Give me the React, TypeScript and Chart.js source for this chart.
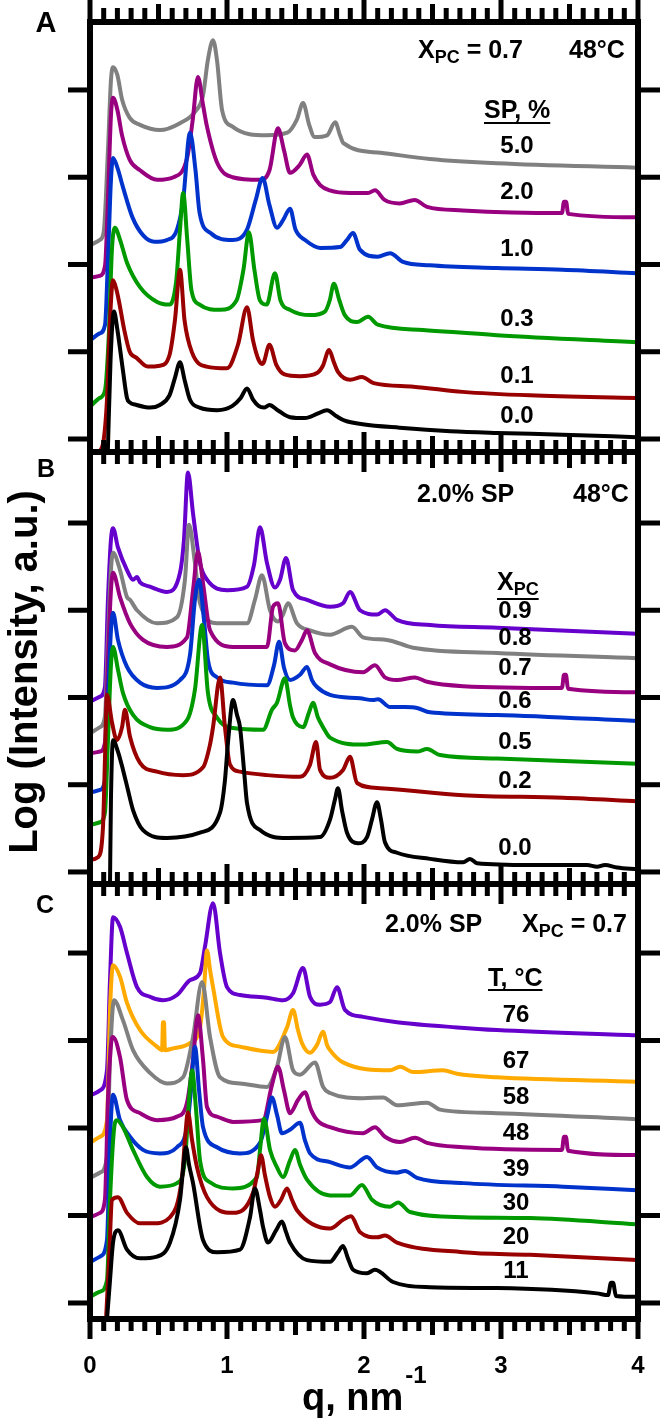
import React, { useEffect, useRef } from "react";
import { Chart, registerables } from "chart.js";

Chart.register(...registerables);

const FONT = "'Liberation Sans', Arial, Helvetica, sans-serif";

// ---------- axes ----------
const X_TICKS = [0, 1, 2, 3, 4];
const Y_TICKS = [0, 1, 2, 3, 4];

// ---------- Panel A : X_PC = 0.7, 48 °C, varying SP % ----------
const A_SP_LABELS = ["5.0", "2.0", "1.0", "0.3", "0.1", "0.0"];
const A_SP00: [number, number][] = [[0.13,-0.15],[0.15,0.91],[0.175,1.46],[0.20,1.25],[0.24,0.79],[0.27,0.47],[0.29,0.42],[0.34,0.39],[0.44,0.36],[0.51,0.39],[0.58,0.50],[0.62,0.70],[0.657,0.88],[0.69,0.68],[0.73,0.45],[0.80,0.36],[0.93,0.33],[1.04,0.38],[1.10,0.47],[1.146,0.58],[1.19,0.45],[1.23,0.38],[1.27,0.36],[1.31,0.39],[1.37,0.33],[1.46,0.25],[1.57,0.24],[1.66,0.29],[1.73,0.33],[1.80,0.26],[1.86,0.21],[1.99,0.17],[2.26,0.13],[2.63,0.09],[2.97,0.07],[3.45,0.05],[3.99,0.02]];
const A_SP01: [number, number][] = [[0.07,-0.15],[0.10,-0.01],[0.124,0.45],[0.146,1.36],[0.168,1.82],[0.19,1.73],[0.21,1.59],[0.25,1.25],[0.29,1.00],[0.34,0.93],[0.42,0.83],[0.51,0.84],[0.58,0.96],[0.62,1.36],[0.657,1.94],[0.69,1.36],[0.745,0.99],[0.85,0.83],[1.00,0.81],[1.08,1.08],[1.146,1.51],[1.19,1.13],[1.23,0.91],[1.26,0.86],[1.31,1.08],[1.36,0.85],[1.42,0.74],[1.53,0.72],[1.66,0.76],[1.70,0.84],[1.745,1.02],[1.78,0.88],[1.81,0.77],[1.90,0.68],[1.985,0.71],[2.07,0.64],[2.36,0.60],[2.72,0.54],[3.21,0.50],[3.99,0.47]];
const A_SP03: [number, number][] = [[0,0.37],[0.07,0.47],[0.11,0.56],[0.139,1.25],[0.16,2.17],[0.182,2.42],[0.22,2.28],[0.27,2.02],[0.365,1.74],[0.49,1.57],[0.58,1.54],[0.63,1.82],[0.657,2.40],[0.68,2.82],[0.71,2.28],[0.74,1.71],[0.80,1.54],[0.95,1.48],[1.07,1.59],[1.12,1.94],[1.16,2.37],[1.20,1.94],[1.24,1.59],[1.29,1.54],[1.35,1.90],[1.39,1.59],[1.46,1.48],[1.61,1.42],[1.715,1.46],[1.75,1.59],[1.78,1.78],[1.82,1.59],[1.86,1.42],[1.95,1.34],[2.03,1.40],[2.10,1.31],[2.43,1.25],[2.97,1.19],[3.99,1.11]];
const A_SP10: [number, number][] = [[0,1.13],[0.07,1.21],[0.11,1.31],[0.131,2.05],[0.153,2.97],[0.168,3.22],[0.20,3.11],[0.24,2.89],[0.31,2.54],[0.39,2.33],[0.47,2.26],[0.56,2.28],[0.635,2.40],[0.68,2.74],[0.73,3.51],[0.77,3.08],[0.80,2.59],[0.88,2.36],[1.04,2.28],[1.146,2.40],[1.21,2.74],[1.26,2.99],[1.31,2.68],[1.365,2.42],[1.41,2.51],[1.46,2.64],[1.50,2.40],[1.57,2.28],[1.68,2.19],[1.825,2.20],[1.875,2.28],[1.92,2.36],[1.97,2.17],[2.10,2.09],[2.19,2.13],[2.285,2.03],[2.48,1.99],[2.97,1.96],[3.45,1.94],[3.99,1.90]];
const A_SP20: [number, number][] = [[0,1.85],[0.07,1.87],[0.11,1.99],[0.131,2.74],[0.153,3.71],[0.168,3.91],[0.20,3.77],[0.234,3.48],[0.29,3.20],[0.365,3.08],[0.49,2.97],[0.61,3.00],[0.71,3.23],[0.75,3.66],[0.788,4.15],[0.825,3.83],[0.854,3.58],[0.93,3.16],[1.04,3.00],[1.24,2.97],[1.31,3.08],[1.372,3.56],[1.416,3.31],[1.46,3.05],[1.53,3.14],[1.584,3.26],[1.63,3.03],[1.68,2.91],[1.75,2.85],[1.90,2.82],[2.03,2.82],[2.08,2.85],[2.15,2.74],[2.26,2.70],[2.37,2.74],[2.46,2.66],[2.72,2.62],[3.445,2.59],[3.46,2.72],[3.475,2.72],[3.49,2.58],[3.99,2.54]];
const A_SP50: [number, number][] = [[0,2.22],[0.07,2.28],[0.10,2.37],[0.131,3.31],[0.153,4.11],[0.168,4.26],[0.20,4.17],[0.234,3.89],[0.29,3.68],[0.365,3.60],[0.51,3.54],[0.657,3.62],[0.766,3.75],[0.825,3.94],[0.86,4.34],[0.898,4.57],[0.927,4.34],[0.964,3.77],[1.04,3.58],[1.29,3.48],[1.44,3.51],[1.51,3.66],[1.555,3.85],[1.60,3.60],[1.64,3.46],[1.73,3.48],[1.79,3.63],[1.825,3.48],[1.85,3.39],[2.12,3.28],[2.48,3.21],[2.97,3.16],[3.99,3.11]];

// ---------- Panel B : 2.0 % SP, 48 °C, varying X_PC ----------
const B_XPC_LABELS = ["0.9", "0.8", "0.7", "0.6", "0.5", "0.2", "0.0"];
const B_X00: [number, number][] = [[0.146,-0.13],[0.153,0.83],[0.168,1.51],[0.204,1.38],[0.241,1.17],[0.277,0.94],[0.314,0.71],[0.387,0.48],[0.562,0.39],[0.803,0.45],[0.949,0.68],[0.985,1.05],[1.007,1.48],[1.044,1.97],[1.073,1.80],[1.095,1.66],[1.124,1.17],[1.146,0.79],[1.241,0.48],[1.438,0.39],[1.679,0.40],[1.752,0.60],[1.788,0.83],[1.81,0.96],[1.839,0.71],[1.876,0.45],[1.956,0.33],[2.022,0.40],[2.058,0.60],[2.095,0.80],[2.124,0.60],[2.153,0.34],[2.241,0.22],[2.482,0.15],[2.723,0.11],[2.774,0.15],[2.825,0.10],[3.212,0.08],[3.628,0.08],[3.701,0.06],[3.759,0.08],[3.847,0.05],[3.993,0.03]];
const B_X02: [number, number][] = [[0,0.14],[0.058,0.17],[0.095,0.52],[0.109,1.28],[0.124,2.03],[0.161,1.71],[0.197,1.51],[0.234,1.66],[0.255,1.86],[0.292,1.55],[0.365,1.25],[0.489,1.15],[0.679,1.11],[0.825,1.20],[0.876,1.46],[0.898,1.66],[0.949,2.23],[0.985,1.66],[1.022,1.23],[1.095,1.15],[1.292,1.11],[1.533,1.09],[1.606,1.23],[1.65,1.49],[1.679,1.17],[1.752,1.08],[1.847,1.17],[1.898,1.32],[1.949,1.02],[2.117,0.96],[2.723,0.88],[3.453,0.85],[3.993,0.81]];
const B_X05: [number, number][] = [[0,0.54],[0.073,0.57],[0.109,0.68],[0.131,1.51],[0.153,2.37],[0.168,2.58],[0.204,2.32],[0.241,2.05],[0.314,1.80],[0.438,1.66],[0.562,1.63],[0.708,1.74],[0.766,2.09],[0.818,2.83],[0.861,2.05],[0.927,1.77],[1.044,1.65],[1.263,1.63],[1.328,1.86],[1.365,1.94],[1.423,2.22],[1.46,1.91],[1.482,1.77],[1.555,1.66],[1.599,1.83],[1.628,1.94],[1.664,1.77],[1.701,1.66],[1.752,1.54],[1.993,1.46],[2.168,1.49],[2.241,1.41],[2.387,1.38],[2.46,1.41],[2.555,1.34],[2.971,1.30],[3.993,1.24]];
const B_X06: [number, number][] = [[0,0.91],[0.073,0.94],[0.109,1.05],[0.131,1.97],[0.153,2.77],[0.168,2.97],[0.204,2.66],[0.27,2.35],[0.365,2.17],[0.489,2.11],[0.657,2.20],[0.73,2.49],[0.766,3.12],[0.796,3.35],[0.832,2.89],[0.861,2.43],[0.927,2.23],[1.044,2.17],[1.292,2.14],[1.343,2.37],[1.38,2.64],[1.416,2.34],[1.46,2.20],[1.533,2.26],[1.584,2.35],[1.62,2.20],[1.657,2.12],[1.752,2.03],[1.971,1.99],[2.066,1.97],[2.102,1.98],[2.19,1.89],[2.299,1.89],[2.387,1.88],[2.482,1.83],[2.971,1.80],[3.993,1.73]];
const B_X07: [number, number][] = [[0,1.36],[0.073,1.38],[0.109,1.48],[0.131,2.43],[0.153,3.23],[0.168,3.43],[0.219,3.15],[0.292,2.85],[0.387,2.66],[0.562,2.58],[0.708,2.69],[0.752,3.23],[0.788,3.67],[0.825,3.31],[0.876,2.77],[1.044,2.58],[1.292,2.58],[1.336,3.04],[1.372,3.08],[1.423,2.62],[1.496,2.54],[1.547,2.66],[1.584,2.77],[1.642,2.51],[1.752,2.38],[1.993,2.29],[2.08,2.37],[2.153,2.23],[2.241,2.20],[2.372,2.23],[2.46,2.18],[2.723,2.13],[3.445,2.11],[3.46,2.26],[3.474,2.26],[3.489,2.10],[3.993,2.06]];
const B_X08: [number, number][] = [[0,1.59],[0.073,1.66],[0.109,1.78],[0.131,2.66],[0.153,3.46],[0.168,3.66],[0.219,3.46],[0.27,3.15],[0.292,3.12],[0.343,3.00],[0.489,2.85],[0.635,2.92],[0.693,3.35],[0.723,3.98],[0.766,3.54],[0.803,3.08],[0.927,2.85],[1.146,2.85],[1.204,3.12],[1.255,3.40],[1.314,3.00],[1.372,2.87],[1.409,2.95],[1.445,3.08],[1.511,2.85],[1.606,2.77],[1.752,2.72],[1.912,2.81],[1.993,2.69],[2.168,2.66],[2.358,2.57],[2.971,2.51],[3.993,2.45]];
const B_X09: [number, number][] = [[0,1.95],[0.073,2.01],[0.109,2.12],[0.131,3.12],[0.153,3.81],[0.168,3.94],[0.204,3.72],[0.27,3.46],[0.314,3.35],[0.343,3.38],[0.365,3.32],[0.438,3.27],[0.562,3.21],[0.657,3.43],[0.686,3.81],[0.715,4.58],[0.752,4.11],[0.803,3.54],[0.854,3.35],[1.0,3.23],[1.146,3.27],[1.197,3.52],[1.241,3.95],[1.292,3.54],[1.35,3.26],[1.387,3.35],[1.431,3.60],[1.482,3.23],[1.584,3.12],[1.752,3.04],[1.847,3.08],[1.898,3.21],[1.971,3.00],[2.095,2.95],[2.153,3.00],[2.241,2.89],[2.482,2.83],[2.971,2.80],[3.993,2.73]];

// ---------- Panel C : 2.0 % SP, X_PC = 0.7, varying T ----------
const C_T_LABELS = ["76", "67", "58", "48", "39", "30", "20", "11"];
const C_T11: [number, number][] = [[0.124,-0.19],[0.146,0.26],[0.168,0.69],[0.204,0.83],[0.27,0.61],[0.365,0.51],[0.489,0.53],[0.584,0.69],[0.657,1.18],[0.679,1.52],[0.701,1.78],[0.723,1.58],[0.752,1.37],[0.825,0.72],[0.927,0.58],[1.095,0.61],[1.168,0.98],[1.204,1.31],[1.241,1.06],[1.263,0.87],[1.299,0.69],[1.358,0.83],[1.401,0.93],[1.431,0.81],[1.46,0.69],[1.584,0.49],[1.752,0.47],[1.81,0.58],[1.847,0.65],[1.883,0.51],[1.92,0.38],[2.022,0.34],[2.08,0.38],[2.212,0.24],[2.482,0.18],[2.971,0.17],[3.701,0.11],[3.781,0.09],[3.803,0.23],[3.818,0.23],[3.839,0.08],[3.993,0.07]];
const C_T20: [number, number][] = [[0.117,-0.19],[0.139,0.49],[0.161,1.18],[0.204,1.21],[0.27,1.03],[0.365,0.91],[0.46,0.91],[0.584,0.98],[0.672,1.44],[0.693,1.86],[0.715,2.18],[0.745,1.86],[0.781,1.55],[0.854,1.21],[1.044,1.03],[1.19,1.26],[1.226,1.52],[1.248,1.69],[1.277,1.46],[1.314,1.21],[1.35,1.10],[1.394,1.18],[1.438,1.31],[1.474,1.18],[1.511,1.06],[1.752,0.85],[1.847,0.95],[1.905,0.99],[1.971,0.81],[2.095,0.75],[2.153,0.77],[2.241,0.69],[2.723,0.58],[3.212,0.55],[3.993,0.49]];
const C_T30: [number, number][] = [[0,0.07],[0.073,0.13],[0.124,0.26],[0.146,1.18],[0.175,1.98],[0.197,2.09],[0.241,2.01],[0.314,1.75],[0.416,1.44],[0.511,1.33],[0.635,1.37],[0.693,1.63],[0.723,2.32],[0.745,2.66],[0.774,2.21],[0.803,1.63],[0.876,1.38],[1.044,1.31],[1.219,1.44],[1.241,1.75],[1.27,2.11],[1.314,1.75],[1.365,1.55],[1.409,1.44],[1.46,1.63],[1.496,1.75],[1.533,1.58],[1.584,1.41],[1.752,1.23],[1.898,1.23],[1.985,1.35],[2.058,1.18],[2.19,1.10],[2.248,1.15],[2.336,1.04],[2.723,0.98],[3.212,0.97],[3.993,0.90]];
const C_T39: [number, number][] = [[0,0.47],[0.073,0.53],[0.124,0.72],[0.146,1.86],[0.168,2.38],[0.219,2.09],[0.292,1.90],[0.387,1.75],[0.511,1.71],[0.635,1.78],[0.708,2.01],[0.737,2.43],[0.766,2.93],[0.796,2.43],[0.825,2.01],[0.927,1.78],[1.095,1.71],[1.241,1.83],[1.292,2.13],[1.328,2.35],[1.365,2.15],[1.401,1.94],[1.46,1.98],[1.533,2.06],[1.569,1.86],[1.606,1.71],[1.752,1.61],[1.898,1.55],[2.022,1.67],[2.095,1.55],[2.241,1.49],[2.299,1.51],[2.387,1.43],[2.723,1.37],[3.453,1.33],[3.993,1.29]];
const C_T48: [number, number][] = [[0,0.98],[0.073,1.03],[0.109,1.18],[0.131,2.32],[0.153,2.95],[0.168,3.04],[0.219,2.81],[0.27,2.32],[0.365,2.17],[0.489,2.09],[0.635,2.13],[0.708,2.29],[0.752,2.78],[0.788,3.29],[0.825,2.78],[0.854,2.24],[0.927,2.13],[1.044,2.07],[1.263,2.09],[1.328,2.49],[1.372,2.70],[1.416,2.43],[1.46,2.17],[1.518,2.32],[1.569,2.41],[1.613,2.21],[1.657,2.09],[1.752,2.01],[1.993,1.94],[2.08,2.01],[2.153,1.90],[2.263,1.84],[2.372,1.89],[2.46,1.83],[2.723,1.78],[3.445,1.75],[3.46,1.90],[3.474,1.90],[3.489,1.74],[3.993,1.69]];
const C_T58: [number, number][] = [[0,1.43],[0.073,1.49],[0.124,1.67],[0.146,2.78],[0.175,3.46],[0.241,3.23],[0.314,2.89],[0.438,2.63],[0.562,2.51],[0.679,2.58],[0.752,3.04],[0.818,3.67],[0.876,3.04],[0.949,2.58],[1.095,2.51],[1.292,2.47],[1.365,2.70],[1.423,3.04],[1.482,2.66],[1.533,2.61],[1.642,2.75],[1.701,2.47],[1.752,2.40],[1.993,2.34],[2.139,2.35],[2.241,2.26],[2.46,2.29],[2.555,2.21],[2.971,2.17],[3.993,2.10]];
const C_T67: [number, number][] = [[0,1.83],[0.073,1.90],[0.124,2.09],[0.146,3.35],[0.168,3.86],[0.219,3.73],[0.27,3.43],[0.365,3.12],[0.489,2.93],[0.526,2.89],[0.533,3.21],[0.54,3.21],[0.547,2.89],[0.606,2.91],[0.73,2.97],[0.803,3.15],[0.832,3.58],[0.854,4.03],[0.876,3.81],[0.898,3.61],[0.971,3.04],[1.095,2.93],[1.336,2.87],[1.438,3.15],[1.482,3.35],[1.518,3.12],[1.547,2.97],[1.606,2.86],[1.657,2.95],[1.701,3.10],[1.73,2.95],[1.752,2.89],[1.847,2.75],[2.19,2.66],[2.263,2.70],[2.358,2.64],[2.577,2.66],[2.679,2.62],[2.971,2.58],[3.993,2.53]];
const C_T76: [number, number][] = [[0.015,2.38],[0.073,2.43],[0.124,2.66],[0.146,3.69],[0.168,4.41],[0.219,4.30],[0.27,4.00],[0.343,3.61],[0.438,3.50],[0.533,3.46],[0.635,3.52],[0.73,3.69],[0.803,3.77],[0.839,4.07],[0.898,4.57],[0.949,4.00],[1.0,3.61],[1.095,3.52],[1.292,3.49],[1.409,3.46],[1.482,3.54],[1.555,3.83],[1.606,3.50],[1.679,3.41],[1.752,3.44],[1.803,3.61],[1.861,3.35],[1.993,3.27],[2.241,3.21],[2.679,3.15],[2.971,3.12],[3.993,3.06]];

const COL = {
  black: "#000000",
  red: "#990000",
  green: "#009a00",
  blue: "#0033cc",
  magenta: "#990080",
  gray: "#808080",
  violet: "#6600cc",
  orange: "#ffaa00",
};

type Series = { name: string; pts: [number, number][]; color: string; axis: string };

const SERIES: Series[] = [
  { name: "A 0.0", pts: A_SP00, color: COL.black, axis: "yA" },
  { name: "A 0.1", pts: A_SP01, color: COL.red, axis: "yA" },
  { name: "A 0.3", pts: A_SP03, color: COL.green, axis: "yA" },
  { name: "A 1.0", pts: A_SP10, color: COL.blue, axis: "yA" },
  { name: "A 2.0", pts: A_SP20, color: COL.magenta, axis: "yA" },
  { name: "A 5.0", pts: A_SP50, color: COL.gray, axis: "yA" },
  { name: "B 0.0", pts: B_X00, color: COL.black, axis: "yB" },
  { name: "B 0.2", pts: B_X02, color: COL.red, axis: "yB" },
  { name: "B 0.5", pts: B_X05, color: COL.green, axis: "yB" },
  { name: "B 0.6", pts: B_X06, color: COL.blue, axis: "yB" },
  { name: "B 0.7", pts: B_X07, color: COL.magenta, axis: "yB" },
  { name: "B 0.8", pts: B_X08, color: COL.gray, axis: "yB" },
  { name: "B 0.9", pts: B_X09, color: COL.violet, axis: "yB" },
  { name: "C 11", pts: C_T11, color: COL.black, axis: "yC" },
  { name: "C 20", pts: C_T20, color: COL.red, axis: "yC" },
  { name: "C 30", pts: C_T30, color: COL.green, axis: "yC" },
  { name: "C 39", pts: C_T39, color: COL.blue, axis: "yC" },
  { name: "C 48", pts: C_T48, color: COL.magenta, axis: "yC" },
  { name: "C 58", pts: C_T58, color: COL.gray, axis: "yC" },
  { name: "C 67", pts: C_T67, color: COL.orange, axis: "yC" },
  { name: "C 76", pts: C_T76, color: COL.violet, axis: "yC" },
];

function drawText(ctx: CanvasRenderingContext2D, s: string, x: number, y: number, size: number, align: CanvasTextAlign = "left") {
  ctx.font = `bold ${size}px ${FONT}`;
  ctx.textAlign = align;
  ctx.textBaseline = "alphabetic";
  ctx.fillText(s, x, y);
  return ctx.measureText(s).width;
}

const decorPlugin = {
  id: "decor",
  afterDraw(chart: any) {
    const ctx: CanvasRenderingContext2D = chart.ctx;
    const xs = chart.scales.x;
    const ys = [chart.scales.yA, chart.scales.yB, chart.scales.yC];
    const L = xs.left;
    const R = xs.right;
    ctx.save();
    ctx.fillStyle = "#000";
    const edges = new Set<number>();
    ys.forEach((s) => { edges.add(Math.round(s.top)); edges.add(Math.round(s.bottom)); });
    const hs = Array.from(edges).sort((a, b) => a - b);
    const topY = hs[0];
    const botY = hs[hs.length - 1];
    // frame
    ctx.fillRect(L - 3, topY - 3, 6, botY - topY + 6);
    ctx.fillRect(R - 3, topY - 3, 6, botY - topY + 6);
    hs.forEach((y) => ctx.fillRect(L - 3, y - 3, R - L + 6, 6));
    // y ticks (left & right, outward)
    ys.forEach((s) => {
      Y_TICKS.forEach((v) => {
        const y = s.getPixelForValue(v);
        ctx.fillRect(L - 22, y - 2.5, 22, 5);
        ctx.fillRect(R, y - 2.5, 22, 5);
      });
    });
    // x ticks at every panel boundary
    for (let i = 0; i <= 40; i++) {
      const x = xs.getPixelForValue(i / 10);
      const len = i % 10 === 0 ? 20 : i % 5 === 0 ? 16 : 12;
      hs.forEach((y, k) => {
        const isTop = k === 0;
        const isBot = k === hs.length - 1;
        const y1 = isBot ? y : y - len - (isTop ? 2 : 0);
        const y2 = isTop ? y : y + len;
        ctx.fillRect(x - 2.5, y1, 5, y2 - y1);
      });
    }

    // ----- Panel A texts -----
    drawText(ctx, "A", 46, 32, 29, "center");
    let w = drawText(ctx, "X", 418, 58, 25);
    let w2 = drawText(ctx, "PC", 418 + w, 63, 18);
    drawText(ctx, " = 0.7", 418 + w + w2, 58, 25);
    drawText(ctx, "48°C", 569, 58, 25);
    w = drawText(ctx, "SP, %", 484, 118, 25);
    ctx.fillRect(484, 122, w, 2);
    const aY = [153, 199, 256, 326, 383, 423];
    A_SP_LABELS.forEach((s, i) => drawText(ctx, s, 517, aY[i], 24, "center"));

    // ----- Panel B texts -----
    drawText(ctx, "B", 46, 477, 25, "center");
    drawText(ctx, "2.0% SP", 417, 502, 25);
    drawText(ctx, "48°C", 573, 502, 25);
    w = drawText(ctx, "X", 497, 590, 25);
    w2 = drawText(ctx, "PC", 497 + w, 595, 18);
    ctx.fillRect(497, 598, w + w2, 2);
    const bY = [618, 645, 675, 708, 749, 788, 855];
    B_XPC_LABELS.forEach((s, i) => drawText(ctx, s, 515, bY[i], 24, "center"));

    // ----- Panel C texts -----
    drawText(ctx, "C", 45, 913, 25, "center");
    drawText(ctx, "2.0% SP", 385, 932, 25);
    w = drawText(ctx, "X", 522, 932, 25);
    w2 = drawText(ctx, "PC", 522 + w, 937, 18);
    drawText(ctx, " = 0.7", 522 + w + w2, 932, 25);
    w = drawText(ctx, "T, °C", 488, 986, 25);
    ctx.fillRect(488, 989, w, 2);
    const cY = [1022, 1068, 1104, 1140, 1176, 1210, 1244, 1278];
    C_T_LABELS.forEach((s, i) => drawText(ctx, s, 516, cY[i], 24, "center"));

    // ----- axis titles -----
    ctx.save();
    ctx.translate(37, 672);
    ctx.rotate(-Math.PI / 2);
    drawText(ctx, "Log (Intensity, a.u.)", 0, 0, 40, "center");
    ctx.restore();
    w = drawText(ctx, "q, nm", 302, 1410, 38);
    drawText(ctx, "-1", 302 + w + 2, 1383, 24);
    ctx.restore();
  },
};

export default function App() {
  const ref = useRef<HTMLCanvasElement | null>(null);
  useEffect(() => {
    if (!ref.current) return;
    const chart = new Chart(ref.current, {
      type: "line",
      data: {
        datasets: SERIES.map((s) => ({
          label: s.name,
          data: s.pts.map(([x, y]) => ({ x, y })),
          borderColor: s.color,
          backgroundColor: s.color,
          borderWidth: 4,
          pointRadius: 0,
          fill: false,
          cubicInterpolationMode: "monotone" as const,
          borderJoinStyle: "round" as const,
          borderCapStyle: "round" as const,
          xAxisID: "x",
          yAxisID: s.axis,
        })),
      },
      options: {
        animation: false,
        responsive: false,
        maintainAspectRatio: false,
        devicePixelRatio: 1,
        layout: { padding: { left: 90, right: 22, top: 22, bottom: 0 } },
        plugins: { legend: { display: false }, tooltip: { enabled: false } },
        scales: {
          x: {
            type: "linear",
            position: "bottom",
            min: 0,
            max: 4,
            grid: { display: false, drawTicks: false },
            border: { display: false },
            afterBuildTicks: (axis: any) => {
              axis.ticks = X_TICKS.map((v) => ({ value: v }));
            },
            afterFit: (axis: any) => {
              axis.height = 100;
              axis.paddingLeft = 0;
              axis.paddingRight = 0;
            },
            ticks: {
              color: "#000",
              padding: 33,
              maxRotation: 0,
              autoSkip: false,
              font: { family: FONT, size: 24, weight: "bold" },
              callback: (v: any) => String(v),
            },
          },
          // stacked panels: first listed ends up at the bottom
          yC: { type: "linear", position: "left", display: false, stack: "panels", stackWeight: 435, min: -0.183, max: 4.789 },
          yB: { type: "linear", position: "left", display: false, stack: "panels", stackWeight: 432, min: -0.138, max: 4.814 },
          yA: { type: "linear", position: "left", display: false, stack: "panels", stackWeight: 430, min: -0.149, max: 4.779 },
        },
      } as any,
      plugins: [decorPlugin],
    });
    return () => chart.destroy();
  }, []);
  return (
    <div style={{ position: "absolute", left: 0, top: 0, width: 660, height: 1419, background: "#fff" }}>
      <canvas ref={ref} width={660} height={1419} style={{ display: "block" }} />
    </div>
  );
}
